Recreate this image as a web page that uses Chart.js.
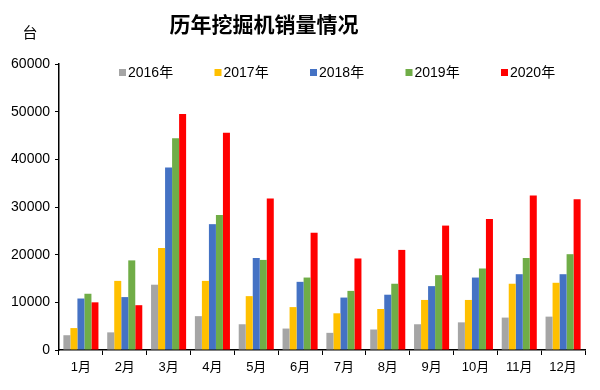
<!DOCTYPE html>
<html>
<head>
<meta charset="utf-8">
<script src="https://cdn.jsdelivr.net/npm/chart.js@4/dist/chart.umd.min.js"></script>
<style>
  html, body { margin: 0; padding: 0; background: #fff; }
  #wrap { width: 600px; height: 390px; position: relative; }
</style>
</head>
<body>
<div id="wrap"><canvas id="c" width="600" height="390"></canvas></div>
<script>
const months = ['1月','2月','3月','4月','5月','6月','7月','8月','9月','10月','11月','12月'];
const seriesNames = ['2016年','2017年','2018年','2019年','2020年'];
const seriesColors = ['#A5A5A5','#FFC000','#4472C4','#70AD47','#FF0000'];
const sales2016 = [3100, 3700, 13700, 7100, 5400, 4500, 3600, 4300, 5400, 5800, 6800, 7000];
const sales2017 = [4600, 14500, 21400, 14500, 11300, 9000, 7700, 8600, 10500, 10500, 13900, 14100];
const sales2018 = [10800, 11100, 38300, 26400, 19300, 14300, 11000, 11600, 13400, 15200, 15900, 15900];
const sales2019 = [11800, 18800, 44400, 28300, 18900, 15200, 12400, 13900, 15700, 17100, 19300, 20100];
const sales2020 = [10000, 9400, 49500, 45600, 31800, 24600, 19200, 21000, 26100, 27500, 32400, 31600];
const yTicks = [0, 10000, 20000, 30000, 40000, 50000, 60000];
const chartTitle = '历年挖掘机销量情况';
const unitLabel = '台';

const allSeries = [sales2016, sales2017, sales2018, sales2019, sales2020];

const textPlugin = {
  id: 'textPlugin',
  afterDraw(chart) {
    const ctx = chart.ctx;
    ctx.save();
    ctx.fillStyle = '#000';
    ctx.textBaseline = 'middle';
    ctx.textAlign = 'center';
    ctx.font = 'bold 21px "Noto Sans CJK SC"';
    ctx.fillText(chartTitle, 264, 24);
    ctx.font = '15px "Noto Sans CJK SC"';
    ctx.fillText(unitLabel, 30, 32);
    // legend
    ctx.textAlign = 'left';
    ctx.font = '14px "Liberation Sans", "Noto Sans CJK SC"';
    chart.data.datasets.forEach((ds, i) => {
      const x = 119 + i * 95.5;
      ctx.fillStyle = ds.backgroundColor;
      ctx.fillRect(x, 69, 7, 7);
      ctx.fillStyle = '#000';
      ctx.fillText(ds.label, x + 9, 73);
    });
    ctx.restore();
  }
};

new Chart(document.getElementById('c'), {
  type: 'bar',
  data: {
    labels: months,
    datasets: seriesNames.map((name, i) => ({
      label: name,
      data: allSeries[i],
      backgroundColor: seriesColors[i],
      borderWidth: 0,
      categoryPercentage: 0.8,
      barPercentage: 1.0
    }))
  },
  options: {
    responsive: false,
    animation: false,
    devicePixelRatio: 1,
    layout: { padding: { top: 64, right: 15, left: 0, bottom: 0 } },
    plugins: {
      legend: { display: false },
      title: { display: false },
      tooltip: { enabled: false }
    },
    scales: {
      x: {
        offset: true,
        grid: { display: true, drawOnChartArea: false, drawTicks: true, tickLength: 5, color: '#000', offset: true },
        border: { display: true, color: '#000', width: 1.5 },
        ticks: { color: '#000', font: { size: 13, family: '"Liberation Sans", "Noto Sans CJK SC"' }, padding: 5, maxRotation: 0 },
        afterFit(scale) { scale.height = 40; }
      },
      y: {
        min: 0,
        max: 60000,
        afterBuildTicks(scale) { scale.ticks = yTicks.map(v => ({ value: v })); },
        grid: { display: true, drawOnChartArea: false, drawTicks: true, tickLength: 4, color: '#000' },
        border: { display: true, color: '#000', width: 1.5 },
        ticks: { color: '#000', font: { size: 14, family: '"Liberation Sans", Arial' }, padding: 5, callback: (v) => String(v) },
        afterFit(scale) { scale.width = 59; }
      }
    }
  },
  plugins: [textPlugin]
});
</script>
</body>
</html>
